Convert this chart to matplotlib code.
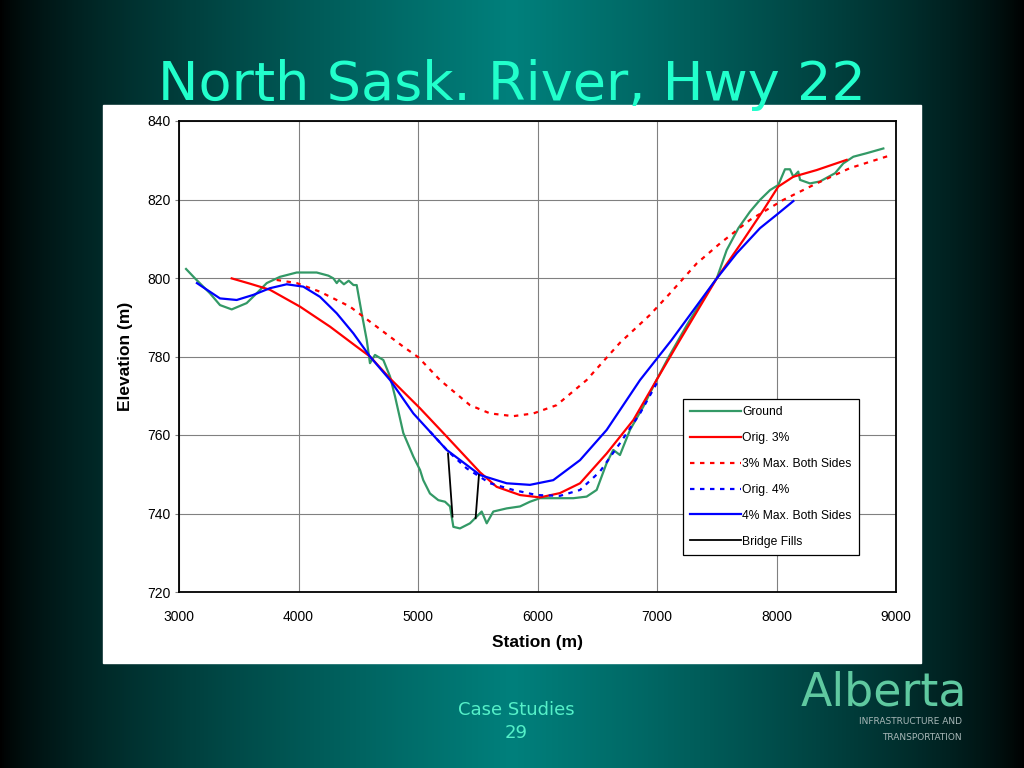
import numpy as np
import matplotlib
matplotlib.use("Agg")
import matplotlib.pyplot as plt
from matplotlib.patches import Rectangle

# ---- data ----
ground_x = [3059, 3134, 3259, 3343, 3441, 3566, 3650, 3734, 3845, 3985, 4152, 4250,
            4292, 4320, 4340, 4380, 4420, 4460, 4487, 4529, 4571, 4598, 4640, 4710,
            4766, 4808, 4877, 4961, 5017, 5044, 5100, 5170, 5226, 5268, 5296, 5351,
            5435, 5491, 5533, 5575, 5630, 5742, 5854, 5937, 6021, 6160, 6300, 6411,
            6495, 6578, 6634, 6690, 6774, 6885, 6996, 7100, 7250, 7400, 7500, 7583,
            7681, 7778, 7862, 7946, 8015, 8071, 8113, 8141, 8182, 8197, 8280, 8364,
            8448, 8490, 8559, 8643, 8755, 8894]
ground_y = [802.3, 799.9, 796.1, 793.1, 792.0, 793.6, 796.1, 798.7, 800.3, 801.4, 801.4, 800.6,
            799.9, 798.7, 799.5, 798.4, 799.3, 798.2, 798.2, 791.0, 784.2, 778.3, 780.4, 779.1,
            774.9, 769.8, 760.5, 754.5, 751.1, 748.5, 745.1, 743.4, 743.0, 741.8, 736.6, 736.2,
            737.5, 739.2, 740.5, 737.5, 740.5, 741.3, 741.8, 743.0, 743.9, 743.9, 743.9, 744.3,
            746.0, 752.8, 756.2, 754.9, 761.3, 767.2, 774.0, 780.0, 788.0, 795.5, 799.9, 807.1,
            812.7, 816.9, 819.9, 822.4, 823.7, 827.7, 827.7, 825.8, 827.1, 825.0, 824.1, 824.6,
            826.0, 826.7, 829.2, 830.9, 831.8, 833.0]

orig3_x = [3441, 3600, 3761, 4013, 4264, 4487, 4598, 4766, 5017, 5240, 5519, 5658,
           5854, 6021, 6188, 6356, 6579, 6802, 6996, 7192, 7500, 7723, 7890, 8015,
           8141, 8336, 8587]
orig3_y = [799.9, 798.5, 797.0, 792.7, 787.6, 782.5, 780.0, 774.4, 766.8, 759.6, 750.5, 746.8,
           744.7, 744.1, 745.2, 747.7, 755.3, 763.8, 774.0, 784.2, 799.9, 809.7, 817.3, 823.3,
           825.8, 827.5, 830.1]

max3_x = [3817, 3985, 4180, 4431, 4654, 4877, 5003, 5184, 5435, 5603, 5797, 5966,
          6160, 6411, 6690, 6941, 7109, 7332, 7527, 7778, 8057, 8336, 8615, 8958]
max3_y = [799.5, 798.7, 796.5, 792.7, 787.6, 782.5, 779.8, 774.0, 767.6, 765.5, 764.8, 765.5,
          767.6, 774.0, 783.5, 790.6, 796.1, 803.7, 808.8, 814.8, 819.9, 824.1, 828.0, 831.3]

orig4_x = [5100, 5250, 5407, 5603, 5797, 5993, 6188, 6356, 6523, 6690, 6858, 7000]
orig4_y = [760.9, 755.9, 751.5, 747.7, 746.0, 744.7, 744.5, 746.0, 750.7, 757.9, 765.5, 773.3]

max4_x = [3150, 3204, 3343, 3483, 3622, 3761, 3901, 4040, 4180, 4320, 4459, 4598,
          4766, 4961, 5240, 5519, 5742, 5937, 6132, 6356, 6579, 6858, 7122, 7500,
          7667, 7862, 8001, 8141]
max4_y = [798.7, 797.6, 794.8, 794.4, 795.7, 797.4, 798.4, 797.8, 795.2, 791.0, 785.9, 780.0,
          774.0, 765.5, 756.2, 749.8, 747.7, 747.3, 748.5, 753.6, 761.3, 774.0, 784.2, 799.9,
          806.3, 812.7, 816.1, 819.6]

fill1_x, fill1_y = [5251, 5289], [755.3, 739.2]
fill2_x, fill2_y = [5510, 5482], [749.8, 738.8]

xticks = [3000, 4000, 5000, 6000, 7000, 8000, 9000]
yticks = [720, 740, 760, 780, 800, 820, 840]

W, H = 1024, 768
fig = plt.figure(figsize=(W / 100, H / 100), dpi=100)

# slide background: teal in the middle, black towards the sides
bg = fig.add_axes([0, 0, 1, 1], zorder=-10)
xs = np.linspace(0, 1, 512)
k = np.clip(1 - np.abs(xs - 0.5) / 0.5, 0, 1) ** 0.7
centre = np.array([0, 128, 124]) / 255
img = np.tile((k[:, None] * centre)[None, :, :], (2, 1, 1))
bg.imshow(img, aspect="auto", extent=[0, 1, 0, 1])
bg.set_xlim(0, 1); bg.set_ylim(0, 1)
bg.axis("off")

# white chart panel
fig.patches.append(Rectangle((103 / W, 1 - 663 / H), 818 / W, 558 / H,
                             transform=fig.transFigure, color="white", zorder=-5))

fig.text(0.5, 1 - 100 / H, "North Sask. River, Hwy 22", ha="center", va="baseline",
         fontsize=39, color="#22ffcc", family="DejaVu Sans")
fig.text(516 / W, 1 - 710 / H, "Case Studies", ha="center", va="center",
         fontsize=13, color="#55f0c8", family="DejaVu Sans")
fig.text(516 / W, 1 - 733 / H, "29", ha="center", va="center",
         fontsize=13, color="#55f0c8", family="DejaVu Sans")
fig.text(884 / W, 1 - 693 / H, "Alberta", ha="center", va="center", fontsize=33,
         color="#5fc9a0", family="DejaVu Sans")
fig.text(962 / W, 1 - 722 / H, "INFRASTRUCTURE AND", ha="right", va="center",
         fontsize=6.5, color="#a8b8b8", family="DejaVu Sans")
fig.text(962 / W, 1 - 737 / H, "TRANSPORTATION", ha="right", va="center",
         fontsize=6.5, color="#a8b8b8", family="DejaVu Sans")

ax = fig.add_axes([179 / W, 1 - 592 / H, 717 / W, 471 / H])
ax.set_facecolor("white")
lw = 1.6
ax.plot(ground_x, ground_y, color="#339966", lw=lw, label="Ground")
ax.plot(orig3_x, orig3_y, color="#ff0000", lw=lw, label="Orig. 3%")
ax.plot(max3_x, max3_y, color="#ff0000", lw=lw, ls=(0, (2, 2.5)), label="3% Max. Both Sides")
ax.plot(orig4_x, orig4_y, color="#0000ff", lw=lw, ls=(0, (2, 2.5)), label="Orig. 4%")
ax.plot(max4_x, max4_y, color="#0000ff", lw=lw, label="4% Max. Both Sides")
ax.plot(fill1_x, fill1_y, color="black", lw=1.3, label="Bridge Fills")
ax.plot(fill2_x, fill2_y, color="black", lw=1.3)

ax.set_xlim(3000, 9000); ax.set_ylim(720, 840)
ax.set_xticks(xticks); ax.set_yticks(yticks)
ax.grid(True, color="#808080", lw=0.8)
ax.set_axisbelow(True)
for sp in ax.spines.values():
    sp.set_color("black"); sp.set_linewidth(1.3)
ax.tick_params(axis="both", labelsize=10, length=3, color="#808080")
ax.tick_params(axis="x", length=0, pad=13)
ax.tick_params(axis="y", pad=3)
for t in ax.get_xticklabels() + ax.get_yticklabels():
    t.set_family("Liberation Sans")
ax.set_xlabel("Station (m)", fontsize=12.5, fontweight="bold", family="Liberation Sans", labelpad=8)
ax.set_ylabel("Elevation (m)", fontsize=12.5, fontweight="bold", family="Liberation Sans", labelpad=10)

leg = ax.legend(loc="lower left", bbox_to_anchor=(0.703, 0.079), fancybox=False,
                edgecolor="black", framealpha=1, prop={"family": "Liberation Sans", "size": 8.7},
                handlelength=4.2, labelspacing=1.15, borderpad=0.6, handletextpad=0.1,
                borderaxespad=0)
leg.get_frame().set_linewidth(0.9)

fig.savefig("out.png", dpi=100)
